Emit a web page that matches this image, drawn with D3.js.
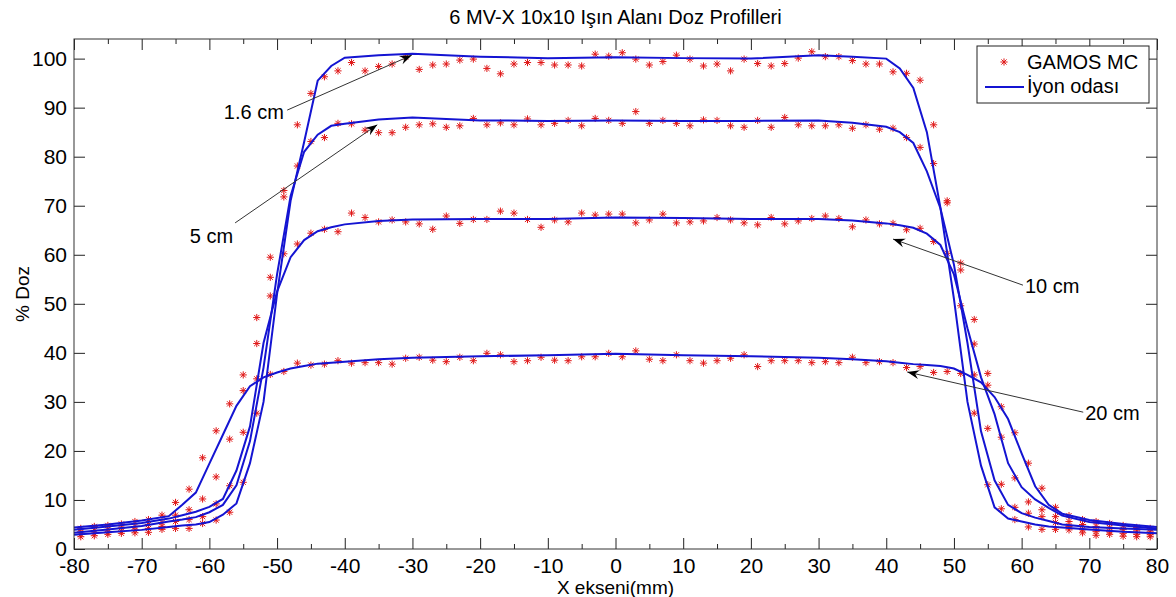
<!DOCTYPE html>
<html>
<head>
<meta charset="utf-8">
<script src="https://cdn.jsdelivr.net/npm/d3@7"></script>
<style>
  html, body { margin: 0; padding: 0; background: #fff; }
  svg { display: block; font-family: "Liberation Sans", Arial, sans-serif; }
</style>
</head>
<body>
<div id="chart"></div>
<script>
// GAMOS MC points (x in mm)
const mcX = [-79,-77,-75,-73,-71,-69,-67,-65,-63,-61,-59,-57,-55,-53,-51,-49,-47,-45,-43,-41,
  -39,-37,-35,-33,-31,-29,-27,-25,-23,-21,-19,-17,-15,-13,-11,-9,-7,-5,-3,-1,
  1,3,5,7,9,11,13,15,17,19,21,23,25,27,29,31,33,35,37,39,
  41,43,45,47,49,51,53,55,57,59,61,63,65,67,69,71,73,75,77,79];

const mc16 = [2.5,2.7,3.0,3.2,3.3,3.4,4.0,4.2,4.2,5.2,5.9,7.5,13.6,27.7,51.6,73.1,86.5,92.9,96.3,97.5,
  99.2,97.5,98.4,98.9,100.3,97.8,98.7,98.9,99.7,99.9,98.0,96.9,98.9,99.2,99.2,98.7,98.7,98.5,100.9,100.5,
  101.2,99.9,98.7,99.4,100.7,99.9,98.5,98.9,97.5,99.9,99.0,98.5,99.0,100.1,101.4,100.4,100.4,99.6,98.9,98.9,
  97.3,97.0,95.6,86.5,70.6,49.6,27.7,13.1,8.2,6.0,4.5,4.0,4.0,3.9,3.3,2.8,3.0,2.6,2.5,2.5];

const mc5 = [3.0,3.2,3.4,3.6,3.9,4.2,4.6,5.6,6.0,6.6,9.2,12.9,23.8,41.9,59.5,71.8,78.1,83.1,83.9,86.8,
  86.7,85.4,84.9,84.9,86.0,86.5,86.7,86.0,86.3,87.8,86.5,86.9,86.5,87.7,86.5,86.8,87.4,86.3,87.8,87.4,
  86.8,89.2,86.8,87.4,86.8,86.3,87.5,87.4,86.3,86.0,87.4,86.0,88.0,86.5,86.3,86.3,86.5,85.8,86.5,85.6,
  85.8,83.9,81.9,78.6,71.0,56.9,41.8,24.6,13.2,8.5,7.3,6.6,5.4,4.6,4.0,3.6,3.5,3.2,3.0,2.9];

const mc10 = [3.5,3.8,4.0,4.3,4.6,5.0,5.4,6.9,8.0,10.2,14.7,22.4,35.5,47.2,55.4,60.2,62.2,64.4,65.2,64.7,
  68.5,67.6,66.7,67.1,66.7,66.3,65.2,67.9,66.4,67.2,67.2,68.9,68.5,67.2,65.6,67.1,66.7,68.5,68.1,68.3,
  68.3,66.5,67.1,68.3,66.5,66.7,66.9,67.6,67.1,66.5,66.1,67.6,66.3,66.9,67.4,67.9,67.4,65.7,67.1,66.3,
  66.4,65.1,65.4,62.7,60.3,58.3,46.8,35.8,22.8,14.5,9.6,8.0,6.6,5.6,5.0,4.6,4.3,4.0,3.7,3.5];

const mc20 = [4.2,4.6,4.8,5.1,5.6,6.0,6.9,9.5,12.2,18.6,24.1,29.6,32.3,34.7,35.6,36.2,37.9,37.5,37.7,38.4,
  37.9,38.0,38.0,37.7,38.9,39.1,38.5,38.2,39.1,38.4,39.9,39.6,38.2,38.4,39.1,38.5,38.4,39.2,39.2,39.9,
  39.2,40.4,38.7,38.4,39.6,38.4,37.9,38.4,38.9,39.6,37.2,38.4,38.4,38.4,38.0,38.2,38.0,39.1,38.0,38.2,
  38.0,37.0,37.2,36.0,36.2,35.8,35.5,33.4,29.0,23.7,17.5,12.4,8.5,6.8,6.0,5.6,5.2,4.8,4.4,4.2];

// ion chamber measurements
const ionX = [-80,-75,-70,-66,-64,-62,-60,-58,-56,-54,-52,-50,-48,-46,-44,-42,-40,-35,-30,-20,
  -10,0,10,20,30,35,40,42,44,46,48,50,52,54,56,58,60,62,64,66,70,75,80];

const ion16 = [2.9,3.4,3.9,4.5,4.8,5.0,5.5,7.0,9.3,17.5,30,52,71,83,95.5,98.5,100.2,100.7,101.0,100.4,
  100.1,100.3,100.1,100.0,100.7,100.4,100.0,98.0,94.0,85.0,69.6,51,30,17,8.5,6.2,5.6,5.0,4.6,4.4,4.0,3.5,3.2];

const ion5 = [3.3,4.0,4.7,5.6,6.0,6.5,7.5,9.0,13,22,37,56,72,81,84.5,86.3,86.7,87.6,88.0,87.4,
  87.3,87.4,87.3,87.3,87.4,86.9,86.1,85.0,82.8,77.0,69.5,58,42,24,14,9.0,7.3,6.4,5.7,5.0,4.5,4.2,3.9];

const ion10 = [3.9,4.6,5.3,6.2,6.9,7.6,8.6,10.2,16,25,42,52.5,59.5,63.0,64.8,65.6,66.2,66.9,67.2,67.3,
  67.3,67.6,67.5,67.3,67.3,67.0,66.4,66.0,65.5,64.3,62.0,56,45,35,27.5,17.5,12.6,10.1,8.4,6.8,5.5,4.8,4.2];

const ion20 = [4.4,5.0,5.8,6.7,9.0,11.5,17.4,23.3,29.2,33.2,35.0,36.0,36.8,37.3,37.8,38.0,38.2,38.7,39.0,39.3,
  39.5,39.8,39.5,39.3,39.0,38.7,38.3,38.0,37.7,37.5,37.3,36.8,35.5,34.0,31.0,26.5,19.5,12.8,9.0,7.2,5.9,5.1,4.5];

const mcSeries = [mc16, mc5, mc10, mc20];
const ionSeries = [ion16, ion5, ion10, ion20];

// axis ticks
const xTicks = [-80,-70,-60,-50,-40,-30,-20,-10,0,10,20,30,40,50,60,70,80];
const xMinorTicks = [-75,-65,-55,-45,-35,-25,-15,-5,5,15,25,35,45,55,65,75];
const yTicks = [0,10,20,30,40,50,60,70,80,90,100];

// depth labels: text point, arrow tail, arrow head (data units)
const depthLabels = ["1.6 cm", "5 cm", "10 cm", "20 cm"];
const labelAnchor = ["end", "end", "start", "start"];
const labelPos = [[-49.0, 89.1], [-56.5, 63.8], [60.5, 53.6], [69.4, 27.7]];
const arrowTail = [[-48.5, 89.5], [-56.2, 66.5], [60.2, 53.8], [69.1, 27.9]];
const arrowHead = [[-30.1, 100.7], [-35.2, 86.5], [41.0, 63.2], [43.1, 36.1]];

const legendNames = ["GAMOS MC", "İyon odası"];

const W = 1176, H = 597;
const plot = { left: 74, top: 39, right: 1157, bottom: 549 };
const blue = "#1414d2";
const red = "#e01818";

const x = d3.scaleLinear().domain([-80, 80]).range([plot.left, plot.right]);
const y = d3.scaleLinear().domain([0, 104]).range([plot.bottom, plot.top]);

// plain hyphen for negatives, like the original
const fmt = d => String(d);

const svg = d3.select("#chart").append("svg")
    .attr("width", W)
    .attr("height", H);

svg.append("rect").attr("width", W).attr("height", H).attr("fill", "#fff");

svg.append("defs").append("clipPath").attr("id", "clip")
  .append("rect")
    .attr("x", plot.left).attr("y", plot.top)
    .attr("width", plot.right - plot.left).attr("height", plot.bottom - plot.top);

// star marker like matlab '*'
function starPath(s) {
    const k = s * 0.72;
    return `M${-s},0H${s}M0,${-s}V${s}M${-k},${-k}L${k},${k}M${-k},${k}L${k},${-k}`;
}

// MC points
const pts = svg.append("g").attr("clip-path", "url(#clip)");
mcSeries.forEach(vals => {
    pts.selectAll(null)
        .data(vals)
        .enter()
        .append("path")
        .attr("transform", (d, i) => `translate(${x(mcX[i])},${y(d)})`)
        .attr("d", starPath(3.6))
        .attr("stroke", red)
        .attr("stroke-width", 1)
        .attr("fill", "none");
});

// ion chamber lines
const line = d3.line()
    .x((d, i) => x(ionX[i]))
    .y(d => y(d));

svg.append("g").attr("clip-path", "url(#clip)")
    .selectAll("path")
    .data(ionSeries)
    .enter()
    .append("path")
    .attr("d", line)
    .attr("fill", "none")
    .attr("stroke", blue)
    .attr("stroke-width", 2);

// axes (ticks point inward, matlab style)
function styleAxis(g) {
    g.select(".domain").remove();
    g.selectAll(".tick line").attr("stroke", "#222");
    g.selectAll("text").attr("font-size", 21).attr("fill", "#000")
        .attr("font-family", "Liberation Sans, Arial, sans-serif");
}

svg.append("g")
    .attr("transform", `translate(0,${plot.bottom})`)
    .call(d3.axisBottom(x).tickValues(xTicks).tickFormat(fmt).tickSizeInner(-11).tickSizeOuter(0).tickPadding(9))
    .call(styleAxis);

svg.append("g")
    .attr("transform", `translate(0,${plot.bottom})`)
    .call(d3.axisBottom(x).tickValues(xMinorTicks).tickFormat("").tickSizeInner(-5).tickSizeOuter(0))
    .call(styleAxis);

svg.append("g")
    .attr("transform", `translate(0,${plot.top})`)
    .call(d3.axisTop(x).tickValues(xTicks).tickFormat("").tickSizeInner(-11).tickSizeOuter(0))
    .call(styleAxis);

svg.append("g")
    .attr("transform", `translate(0,${plot.top})`)
    .call(d3.axisTop(x).tickValues(xMinorTicks).tickFormat("").tickSizeInner(-5).tickSizeOuter(0))
    .call(styleAxis);

svg.append("g")
    .attr("transform", `translate(${plot.left},0)`)
    .call(d3.axisLeft(y).tickValues(yTicks).tickFormat(fmt).tickSizeInner(-11).tickSizeOuter(0).tickPadding(7))
    .call(styleAxis);

svg.append("g")
    .attr("transform", `translate(${plot.right},0)`)
    .call(d3.axisRight(y).tickValues(yTicks).tickFormat("").tickSizeInner(-11).tickSizeOuter(0))
    .call(styleAxis);

// frame
svg.append("rect")
    .attr("x", plot.left).attr("y", plot.top)
    .attr("width", plot.right - plot.left).attr("height", plot.bottom - plot.top)
    .attr("fill", "none")
    .attr("stroke", "#333")
    .attr("stroke-width", 1);

// depth annotations
function arrowHeadPath(tail, head) {
    const x0 = x(tail[0]), y0 = y(tail[1]);
    const x1 = x(head[0]), y1 = y(head[1]);
    const a = Math.atan2(y1 - y0, x1 - x0);
    const len = 12, half = 4.5, back = 8;
    const bx = x1 - len * Math.cos(a), by = y1 - len * Math.sin(a);
    const nx = x1 - back * Math.cos(a), ny = y1 - back * Math.sin(a);
    const px = -Math.sin(a) * half, py = Math.cos(a) * half;
    return `M${x1},${y1}L${bx + px},${by + py}L${nx},${ny}L${bx - px},${by - py}Z`;
}

const ann = svg.append("g");
depthLabels.forEach((lab, i) => {
    ann.append("line")
        .attr("x1", x(arrowTail[i][0])).attr("y1", y(arrowTail[i][1]))
        .attr("x2", x(arrowHead[i][0])).attr("y2", y(arrowHead[i][1]))
        .attr("stroke", "#333")
        .attr("stroke-width", 1);
    ann.append("path")
        .attr("d", arrowHeadPath(arrowTail[i], arrowHead[i]))
        .attr("fill", "#000");
    ann.append("text")
        .attr("x", x(labelPos[i][0]))
        .attr("y", y(labelPos[i][1]))
        .attr("dy", "0.36em")
        .attr("text-anchor", labelAnchor[i])
        .attr("font-size", 20)
        .text(lab);
});

// legend
const leg = svg.append("g");
leg.append("rect")
    .attr("x", 977).attr("y", 46).attr("width", 172).attr("height", 57)
    .attr("fill", "#fff").attr("stroke", "#222").attr("stroke-width", 1);
leg.append("path")
    .attr("transform", "translate(1004,62)")
    .attr("d", starPath(3.6))
    .attr("stroke", red).attr("stroke-width", 1).attr("fill", "none");
leg.append("line")
    .attr("x1", 985).attr("x2", 1024).attr("y1", 87).attr("y2", 87)
    .attr("stroke", blue).attr("stroke-width", 2);
leg.selectAll("text")
    .data(legendNames)
    .enter()
    .append("text")
    .attr("x", 1027)
    .attr("y", (d, i) => 62 + i * 24)
    .attr("dy", "0.36em")
    .attr("font-size", 20)
    .text(d => d);

// title and axis labels
svg.append("text")
    .attr("x", (plot.left + plot.right) / 2)
    .attr("y", 24)
    .attr("text-anchor", "middle")
    .attr("font-size", 20)
    .text("6 MV-X 10x10 Işın Alanı Doz Profilleri");

svg.append("text")
    .attr("x", (plot.left + plot.right) / 2)
    .attr("y", 594)
    .attr("text-anchor", "middle")
    .attr("font-size", 19)
    .text("X ekseni(mm)");

svg.append("text")
    .attr("transform", `translate(29,${(plot.top + plot.bottom) / 2}) rotate(-90)`)
    .attr("text-anchor", "middle")
    .attr("font-size", 19)
    .text("% Doz");
</script>
</body>
</html>
